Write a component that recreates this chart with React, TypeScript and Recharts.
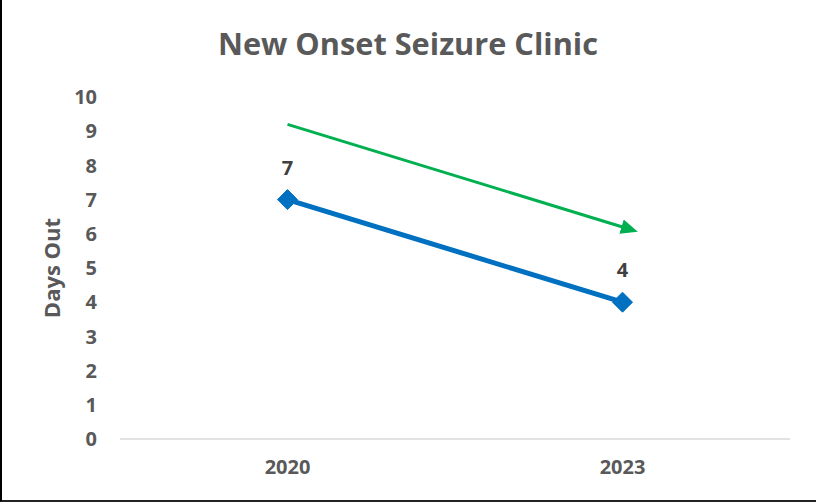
import React from 'react';
import { LineChart, Line, XAxis, YAxis, ReferenceLine, LabelList, Label } from 'recharts';

const years = ['2020', '2023'];
const daysOut = [7, 4];
const yTicks = [0, 1, 2, 3, 4, 5, 6, 7, 8, 9, 10];
const trendArrow = [
  { x: '2020', y: 9.2 },
  { x: '2023', y: 6.2 },
];

const data = years.map((year, i) => ({ year, days: daysOut[i] }));

const FONT = '"Open Sans", Calibri, sans-serif';
const GRAY = '#595959';

const Diamond = (props: any) => {
  const { cx, cy } = props;
  if (cx == null || cy == null) return null;
  const r = 10;
  return (
    <path
      d={`M${cx},${cy - r} L${cx + r},${cy} L${cx},${cy + r} L${cx - r},${cy} Z`}
      fill="#0070C0"
      stroke="#0070C0"
    />
  );
};

const ArrowShape = (props: any) => {
  const { x1, y1, x2, y2 } = props;
  if (x1 == null) return null;
  return (
    <g>
      <defs>
        <marker
          id="greenArrow"
          markerUnits="userSpaceOnUse"
          markerWidth="18"
          markerHeight="16"
          refX="1"
          refY="7.5"
          orient="auto"
        >
          <path d="M0,0 L17,7.5 L0,15 Z" fill="#00B050" />
        </marker>
      </defs>
      <line x1={x1} y1={y1} x2={x2} y2={y2} stroke="#00B050" strokeWidth={3} markerEnd="url(#greenArrow)" />
    </g>
  );
};

export default function App() {
  return (
    <div style={{ position: 'absolute', left: 0, top: 0, width: 816, height: 502, background: '#fff' }}>
      <div
        style={{
          position: 'absolute',
          left: 0,
          top: 0,
          width: 814,
          height: 500,
          borderLeft: '2px solid #000',
          borderBottom: '2px solid #222',
          pointerEvents: 'none',
        }}
      />
      <LineChart width={816} height={502} data={data} margin={{ top: 97, right: 26, bottom: 33, left: 0 }}>
        <text
          x={408}
          y={55}
          textAnchor="middle"
          fill={GRAY}
          fontFamily={FONT}
          fontWeight={700}
          fontSize={31}
          textLength={380}
          lengthAdjust="spacingAndGlyphs"
        >
          New Onset Seizure Clinic
        </text>
        <XAxis
          dataKey="year"
          height={30}
          padding={{ left: 167.5, right: 167.5 }}
          axisLine={{ stroke: '#d9d9d9', strokeWidth: 1.5 }}
          tickLine={false}
          tickMargin={15}
          tick={{ fill: GRAY, fontFamily: FONT, fontWeight: 700, fontSize: 20 }}
        />
        <YAxis
          width={120}
          domain={[0, 10]}
          ticks={yTicks}
          interval={0}
          axisLine={false}
          tickLine={false}
          tickMargin={17}
          tick={{ fill: GRAY, fontFamily: FONT, fontWeight: 700, fontSize: 20 }}
        >
          <Label
            content={() => (
              <text
                x={60}
                y={268}
                transform="rotate(-90 60 268)"
                textAnchor="middle"
                fill={GRAY}
                fontFamily={FONT}
                fontWeight={700}
                fontSize={22}
              >
                Days Out
              </text>
            )}
          />
        </YAxis>
        <ReferenceLine segment={trendArrow} ifOverflow="visible" shape={ArrowShape} />
        <Line
          dataKey="days"
          stroke="#0070C0"
          strokeWidth={5}
          dot={<Diamond />}
          activeDot={false}
          isAnimationActive={false}
        >
          <LabelList
            dataKey="days"
            position="top"
            offset={25}
            fill="#404040"
            fontFamily={FONT}
            fontWeight={700}
            fontSize={20}
          />
        </Line>
      </LineChart>
    </div>
  );
}
